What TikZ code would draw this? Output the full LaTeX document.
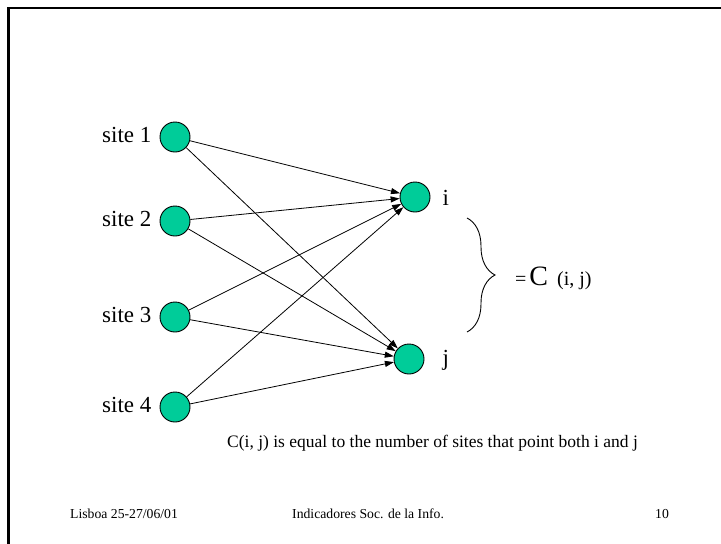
\documentclass[tikz,border=0pt]{standalone}
\usepackage{fontspec}
\setmainfont{Liberation Serif}
\usetikzlibrary{positioning,arrows.meta,decorations.pathreplacing}
\definecolor{sitegreen}{RGB}{0,204,153}

\begin{document}
\begin{tikzpicture}[
    x=1pt,y=-1pt,
    site/.style={circle,draw,fill=sitegreen,minimum size=30pt,inner sep=0pt,line width=0.9pt},
    lbl/.style={font=\fontsize{23}{26}\selectfont,inner sep=0pt},
    foot/.style={font=\fontsize{13.7}{16}\selectfont,inner sep=0pt,anchor=base west},
    arr/.style={-{Triangle[length=9pt,width=6pt]},line width=0.8pt}
  ]
    \useasboundingbox (0,0) rectangle (721,544);
    \draw[line width=2.5pt] (8.5,544) -- (8.5,8) -- (721,8);
    \foreach \n/\y in {1/137,2/221,3/317,4/407} {
      \node[site] (s\n) at (175,\y) {};
      \node[lbl,left=8pt of s\n,anchor=base east,yshift=-5pt] (l\n) {site \n};
    }
    \node[site] (i) at (415,197) {};
    \node[site] (j) at (409,359) {};
    \node[lbl,right=12pt of i,anchor=base west,yshift=-8pt] (li) {i};
    \node[lbl,right=18pt of j,anchor=base west,yshift=-6pt] (lj) {j};
    \foreach \n in {1,...,4} {
      \draw[arr] (s\n) -- (i);
      \draw[arr] (s\n) -- (j);
    }
    % brace and C(i, j)
    \coordinate (btop) at (467,218);
    \coordinate (bbot) at (467,332);
    \draw[line width=0.9pt,decorate,decoration={brace,amplitude=28pt}] (btop) -- (bbot);
    \node[anchor=base west,inner sep=0pt] (cij) at (515,285)
      {{\fontsize{20}{24}\selectfont =}\hspace{3pt}{\fontsize{28}{32}\selectfont C}\hspace{9pt}{\fontsize{20}{24}\selectfont (i, j)}};
    \node[anchor=base west,inner sep=0pt,font=\fontsize{17.5}{20}\selectfont] (note) at (227,447)
      {C(i, j) is equal to the number of sites that point both i and j};
    % footer
    \node[foot] (f1) at (70,518) {Lisboa 25-27/06/01};
    \node[foot] (f2) at (292,518) {Indicadores Soc. de la Info.};
    \node[foot] (f3) at (655,518) {10};
\end{tikzpicture}
\end{document}
